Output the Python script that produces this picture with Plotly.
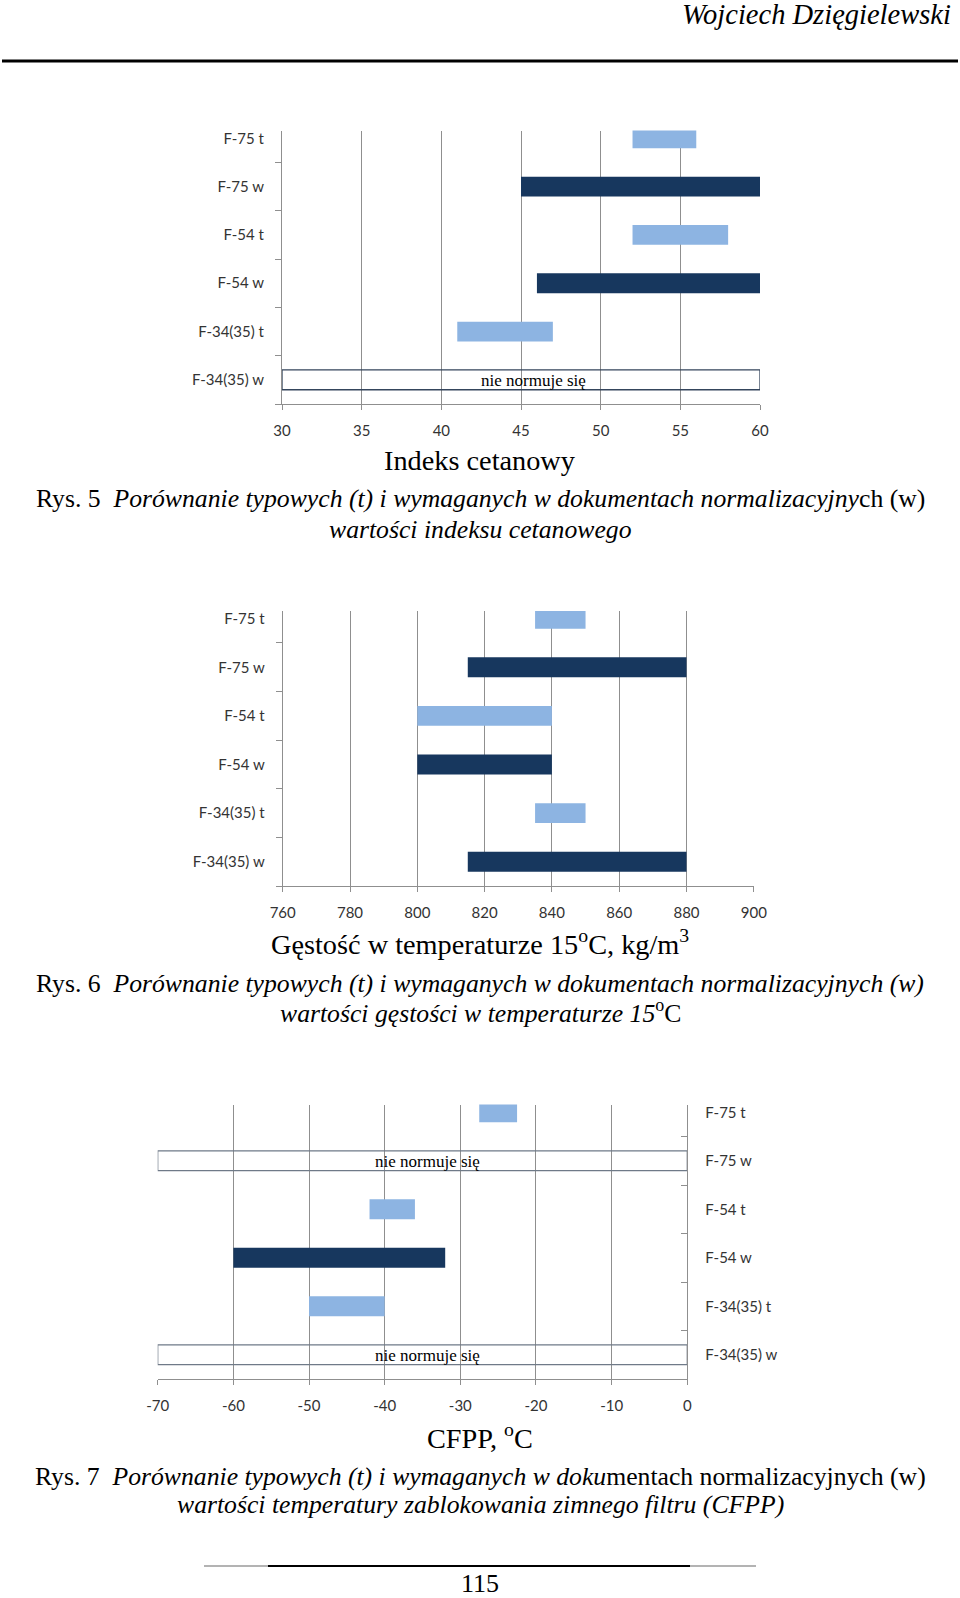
import plotly.graph_objects as go

# ---------------- data ----------------
categories = ["F-75 t", "F-75 w", "F-54 t", "F-54 w", "F-34(35) t", "F-34(35) w"]
kinds = ["t", "w", "t", "w", "t", "w"]

# Indeks cetanowy (None = nie normuje się)
cet_low = [52, 45, 52, 46, 41, None]
cet_high = [56, 60, 58, 60, 47, None]
cet_ticks = [30, 35, 40, 45, 50, 55, 60]

# Gęstość w 15 oC, kg/m3
den_low = [835, 815, 800, 800, 835, 815]
den_high = [850, 880, 840, 840, 850, 880]
den_ticks = [760, 780, 800, 820, 840, 860, 880, 900]

# CFPP, oC
cfpp_low = [-27.5, None, -42, -60, -50, None]
cfpp_high = [-22.5, None, -36, -32, -40, None]
cfpp_ticks = [-70, -60, -50, -40, -30, -20, -10, 0]

note = "nie normuje się"

# ---------------- style ----------------
W, H = 960, 1598
COL = {"t": "#8DB4E2", "w": "#17375E"}
GRID = "#8f8f8f"
TICKFONT = dict(family="Lato, sans-serif", size=15, color="#333333")
SERIF = "Liberation Serif, Times New Roman, serif"


def px(x):
    return x / W


def py(y):
    return 1 - y / H


fig = go.Figure()


def add_chart(n, low, high, ticks, xpx, ypx, side, note_x, box_lines):
    pos = [len(categories) - 1 - i for i in range(len(categories))]
    base, width, colors, lcols, lw = [], [], [], [], []
    notes = []
    for i, k in enumerate(kinds):
        if low[i] is None:
            base.append(ticks[0])
            width.append(ticks[-1] - ticks[0])
            colors.append("rgba(0,0,0,0)")
            lcols.append(box_lines)
            lw.append(1.3)
            notes.append(pos[i])
        else:
            base.append(low[i])
            width.append(high[i] - low[i])
            colors.append(COL[k])
            lcols.append(COL[k])
            lw.append(0)
    xa = "x" if n == 1 else f"x{n}"
    ya = "y" if n == 1 else f"y{n}"
    fig.add_trace(go.Bar(
        y=pos, x=width, base=base, orientation="h", width=0.41,
        marker=dict(color=colors, line=dict(color=lcols, width=lw)),
        xaxis=xa, yaxis=ya, showlegend=False, hoverinfo="skip"))
    for p in notes:
        fig.add_annotation(x=note_x, y=p - 0.02, xref=xa, yref=ya, text=note,
                           showarrow=False, font=dict(family=SERIF, size=17, color="#000"))
    xk = "xaxis" if n == 1 else f"xaxis{n}"
    yk = "yaxis" if n == 1 else f"yaxis{n}"
    fig.update_layout(**{
        xk: dict(domain=[px(xpx[0]), px(xpx[1])], range=[ticks[0], ticks[-1]],
                 tickmode="array", tickvals=ticks, ticktext=[str(t) for t in ticks],
                 showgrid=True, gridcolor=GRID,
                 gridwidth=1, ticks="outside", ticklen=5, tickcolor=GRID,
                 showline=True, linecolor=GRID, linewidth=1, zeroline=False,
                 anchor=ya, tickfont=TICKFONT, ticklabelstandoff=8,
                 automargin=False, fixedrange=True),
        yk: dict(domain=[py(ypx[1]), py(ypx[0])], range=[-0.5, 5.16],
                 tickmode="array", tickvals=pos, ticktext=categories, ticks="",
                 showgrid=False, zeroline=False, showline=True, linecolor=GRID,
                 linewidth=1, side=side, anchor=xa, tickfont=TICKFONT,
                 ticklabelstandoff=14, automargin=False, fixedrange=True,
                 minor=dict(tick0=0.5, dtick=1,
                            ticks="outside" if side == "left" else "inside",
                            ticklen=6, tickcolor=GRID, showgrid=False)),
    })


add_chart(1, cet_low, cet_high, cet_ticks, (282, 760), (130.6, 404), "left", 45.8, "#34455c")
add_chart(2, den_low, den_high, den_ticks, (282.7, 753.8), (610.9, 886), "left", 0, GRID)
add_chart(3, cfpp_low, cfpp_high, cfpp_ticks, (157.7, 687.3), (1104.5, 1379), "right", -34.3, "#6f7a88")


def text(x, y, s, size, italic=False, anchor="center"):
    fig.add_annotation(x=px(x), y=py(y), xref="paper", yref="paper", text=s,
                       showarrow=False, xanchor=anchor, yanchor="middle",
                       font=dict(family=SERIF, size=size, color="#000",
                                 style="italic" if italic else "normal"))


# header
text(953, 14, "Wojciech Dzięgielewski", 28.5, italic=True, anchor="right")
fig.add_shape(type="line", xref="paper", yref="paper", x0=px(2), x1=px(958),
              y0=py(61), y1=py(61), line=dict(color="#000", width=3))

# axis titles + captions
text(480, 461, "Indeks cetanowy", 28.3)
text(480, 499, "Rys. 5  <i>Porównanie typowych (t) i wymaganych w dokumentach normalizacyjny</i>ch (w)", 25.7)
text(480, 529, "<i>wartości indeksu cetanowego</i>", 25.7)

text(480, 942, "Gęstość w temperaturze 15<sup>o</sup>C, kg/m<sup>3</sup>", 28.3)
text(480, 983, "Rys. 6  <i>Porównanie typowych (t) i wymaganych w dokumentach normalizacyjnych (w)</i>", 25.7)
text(480, 1012, "<i>wartości gęstości w temperaturze 15</i><sup>o</sup>C", 25.7)

text(480, 1436, "CFPP, <sup>o</sup>C", 28.3)
text(480, 1476, "Rys. 7  <i>Porównanie typowych (t) i wymaganych w doku</i>mentach normalizacyjnych (w)", 25.7)
text(480, 1504, "<i>wartości temperatury zablokowania zimnego filtru (CFPP)</i>", 25.7)

# footer
fig.add_shape(type="line", xref="paper", yref="paper", x0=px(204), x1=px(756),
              y0=py(1566), y1=py(1566), line=dict(color="#9a9a9a", width=1.5))
fig.add_shape(type="line", xref="paper", yref="paper", x0=px(268), x1=px(690),
              y0=py(1566), y1=py(1566), line=dict(color="#000", width=2))
text(480, 1583, "115", 26)

fig.update_layout(template="none", autosize=False, width=W, height=H,
                  margin=dict(l=0, r=0, t=0, b=0, pad=0),
                  paper_bgcolor="white", plot_bgcolor="white",
                  barmode="overlay", showlegend=False)

fig.write_html("out.html", config={"displayModeBar": False, "staticPlot": True},
               post_script="document.body.style.margin='0';")
